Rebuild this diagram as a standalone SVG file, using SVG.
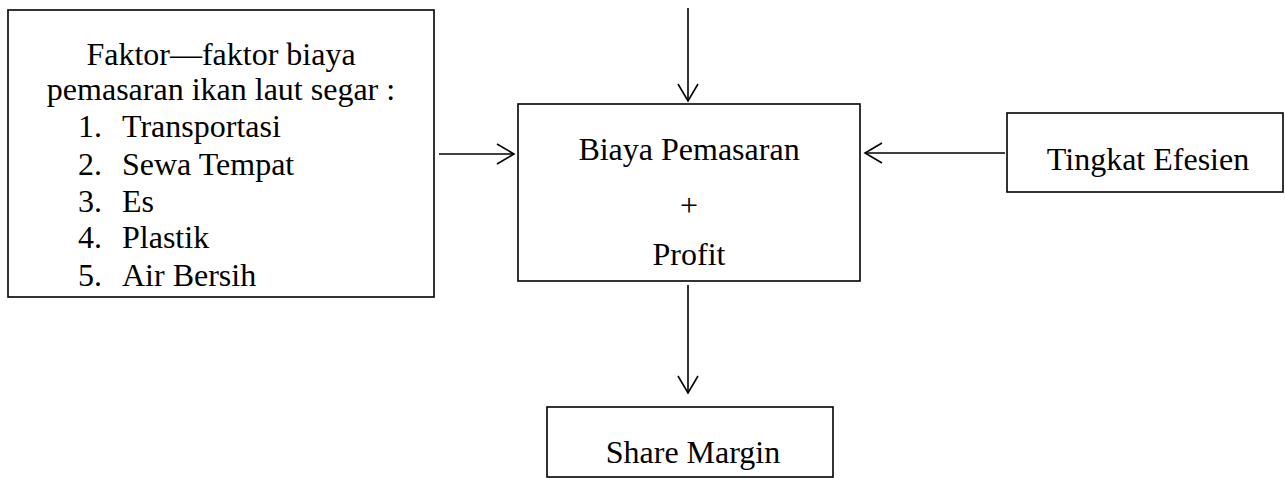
<svg xmlns="http://www.w3.org/2000/svg" width="1285" height="478" viewBox="0 0 1285 478">
<style>
.box{fill:#fff;stroke:#000;stroke-width:1.6}
.t{font-family:"Liberation Serif","Times New Roman",serif;font-size:32px;fill:#000}
.c{text-anchor:middle}
.ln{stroke:#000;stroke-width:1.6;fill:none}
</style>
<defs>
<marker id="ah" markerUnits="userSpaceOnUse" markerWidth="22" markerHeight="26" viewBox="-19 -12 22 24" refX="0" refY="0" orient="auto">
<path d="M-17,-10 L0,0 L-17,10" fill="none" stroke="#000" stroke-width="1.6"/>
</marker>
</defs>
<rect width="1285" height="478" fill="#fff"/>
<g id="connectors">
<line class="ln" x1="688" y1="8" x2="688" y2="101" marker-end="url(#ah)"/>
<line class="ln" x1="439" y1="154" x2="514" y2="154" marker-end="url(#ah)"/>
<line class="ln" x1="1005" y1="153" x2="865" y2="153" marker-end="url(#ah)"/>
<line class="ln" x1="688" y1="285" x2="688" y2="393" marker-end="url(#ah)"/>
</g>
<g id="faktor">
<rect class="box" x="8" y="10" width="426" height="287"/>
<text class="t c" x="221" y="65">Faktor—faktor biaya</text>
<text class="t c" x="221" y="100">pemasaran ikan laut segar :</text>
<text class="t" x="78" y="137">1.</text><text class="t" x="122" y="137">Transportasi</text>
<text class="t" x="78" y="175">2.</text><text class="t" x="122" y="175">Sewa Tempat</text>
<text class="t" x="78" y="212">3.</text><text class="t" x="122" y="212">Es</text>
<text class="t" x="78" y="248">4.</text><text class="t" x="122" y="248">Plastik</text>
<text class="t" x="78" y="286">5.</text><text class="t" x="122" y="286">Air Bersih</text>
</g>
<g id="biaya">
<rect class="box" x="518" y="104" width="342" height="177"/>
<text class="t c" x="689" y="160">Biaya Pemasaran</text>
<text class="t c" x="689" y="216">+</text>
<text class="t c" x="689" y="265">Profit</text>
</g>
<g id="efesien">
<rect class="box" x="1007" y="113" width="276" height="79"/>
<text class="t c" x="1148" y="170">Tingkat Efesien</text>
</g>
<g id="share">
<rect class="box" x="547" y="407" width="286" height="70"/>
<text class="t c" x="693" y="463">Share Margin</text>
</g>
</svg>
